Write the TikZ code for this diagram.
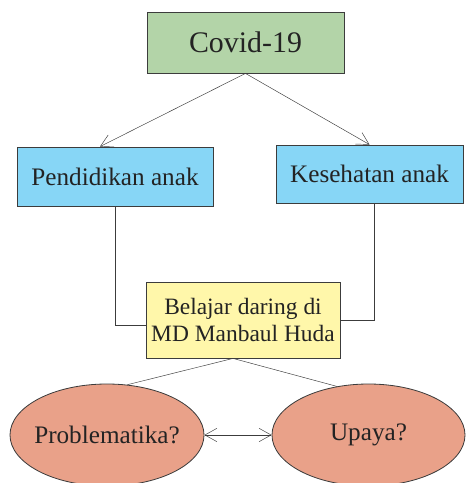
\documentclass[tikz,border=0pt]{standalone}
\usepackage{fontspec}
\setmainfont{Liberation Serif}
\usetikzlibrary{shapes.geometric,arrows.meta}
\definecolor{hijau}{RGB}{179,212,168}
\definecolor{biru}{RGB}{135,214,246}
\definecolor{kuning}{RGB}{255,247,170}
\definecolor{salem}{RGB}{233,161,137}
\definecolor{garis}{RGB}{60,60,60}
\definecolor{teks}{RGB}{35,35,35}
\begin{document}
\begin{tikzpicture}[x=0.03cm,y=-0.03cm,>={Straight Barb[length=3.6mm,width=4mm]},
    kotak/.style={draw=garis,line width=0.7pt,inner sep=0pt,text=teks,font=\fontsize{21.5pt}{24pt}\selectfont},
    elips/.style={kotak,ellipse,inner xsep=-0.2cm}]
\useasboundingbox (0,0) rectangle (466,483);

\node[kotak,fill=hijau,minimum width=5.91cm,minimum height=1.83cm,font=\fontsize{25.5pt}{28pt}\selectfont](covid) at (245.5,42.5){Covid-19};
\node[kotak,fill=biru,minimum width=5.88cm,minimum height=1.77cm](pendidikan) at (115,176.5){Pendidikan anak};
\node[kotak,fill=biru,minimum width=5.61cm,minimum height=1.74cm](kesehatan) at (369.5,174){Kesehatan anak};
\node[kotak,fill=kuning,minimum width=5.82cm,minimum height=2.28cm,align=center,font=\fontsize{20pt}{23pt}\selectfont](belajar) at (243,320){Belajar daring di\\MD Manbaul Huda};
\node[elips,fill=salem,minimum width=5.82cm,minimum height=3.06cm](problem) at (107,435){Problematika?};
\node[elips,fill=salem,minimum width=5.79cm,minimum height=3.06cm](upaya) at (368.5,435){Upaya?};

\draw[->, garis](covid.south)--([xshift=-0.45cm]pendidikan.north);
\draw[->, garis](covid.south)--(kesehatan.north);
\draw[garis](pendidikan.south)|-([yshift=-0.15cm]belajar.west);
\draw[garis]([xshift=0.14cm]kesehatan.south)|-(belajar.east);
\draw[garis]([xshift=-0.3cm]belajar.south)--(problem.68);
\draw[garis]([xshift=-0.3cm]belajar.south)--(upaya.123);
\draw[<->, garis](problem.east)--(upaya.west);
\end{tikzpicture}
\end{document}
